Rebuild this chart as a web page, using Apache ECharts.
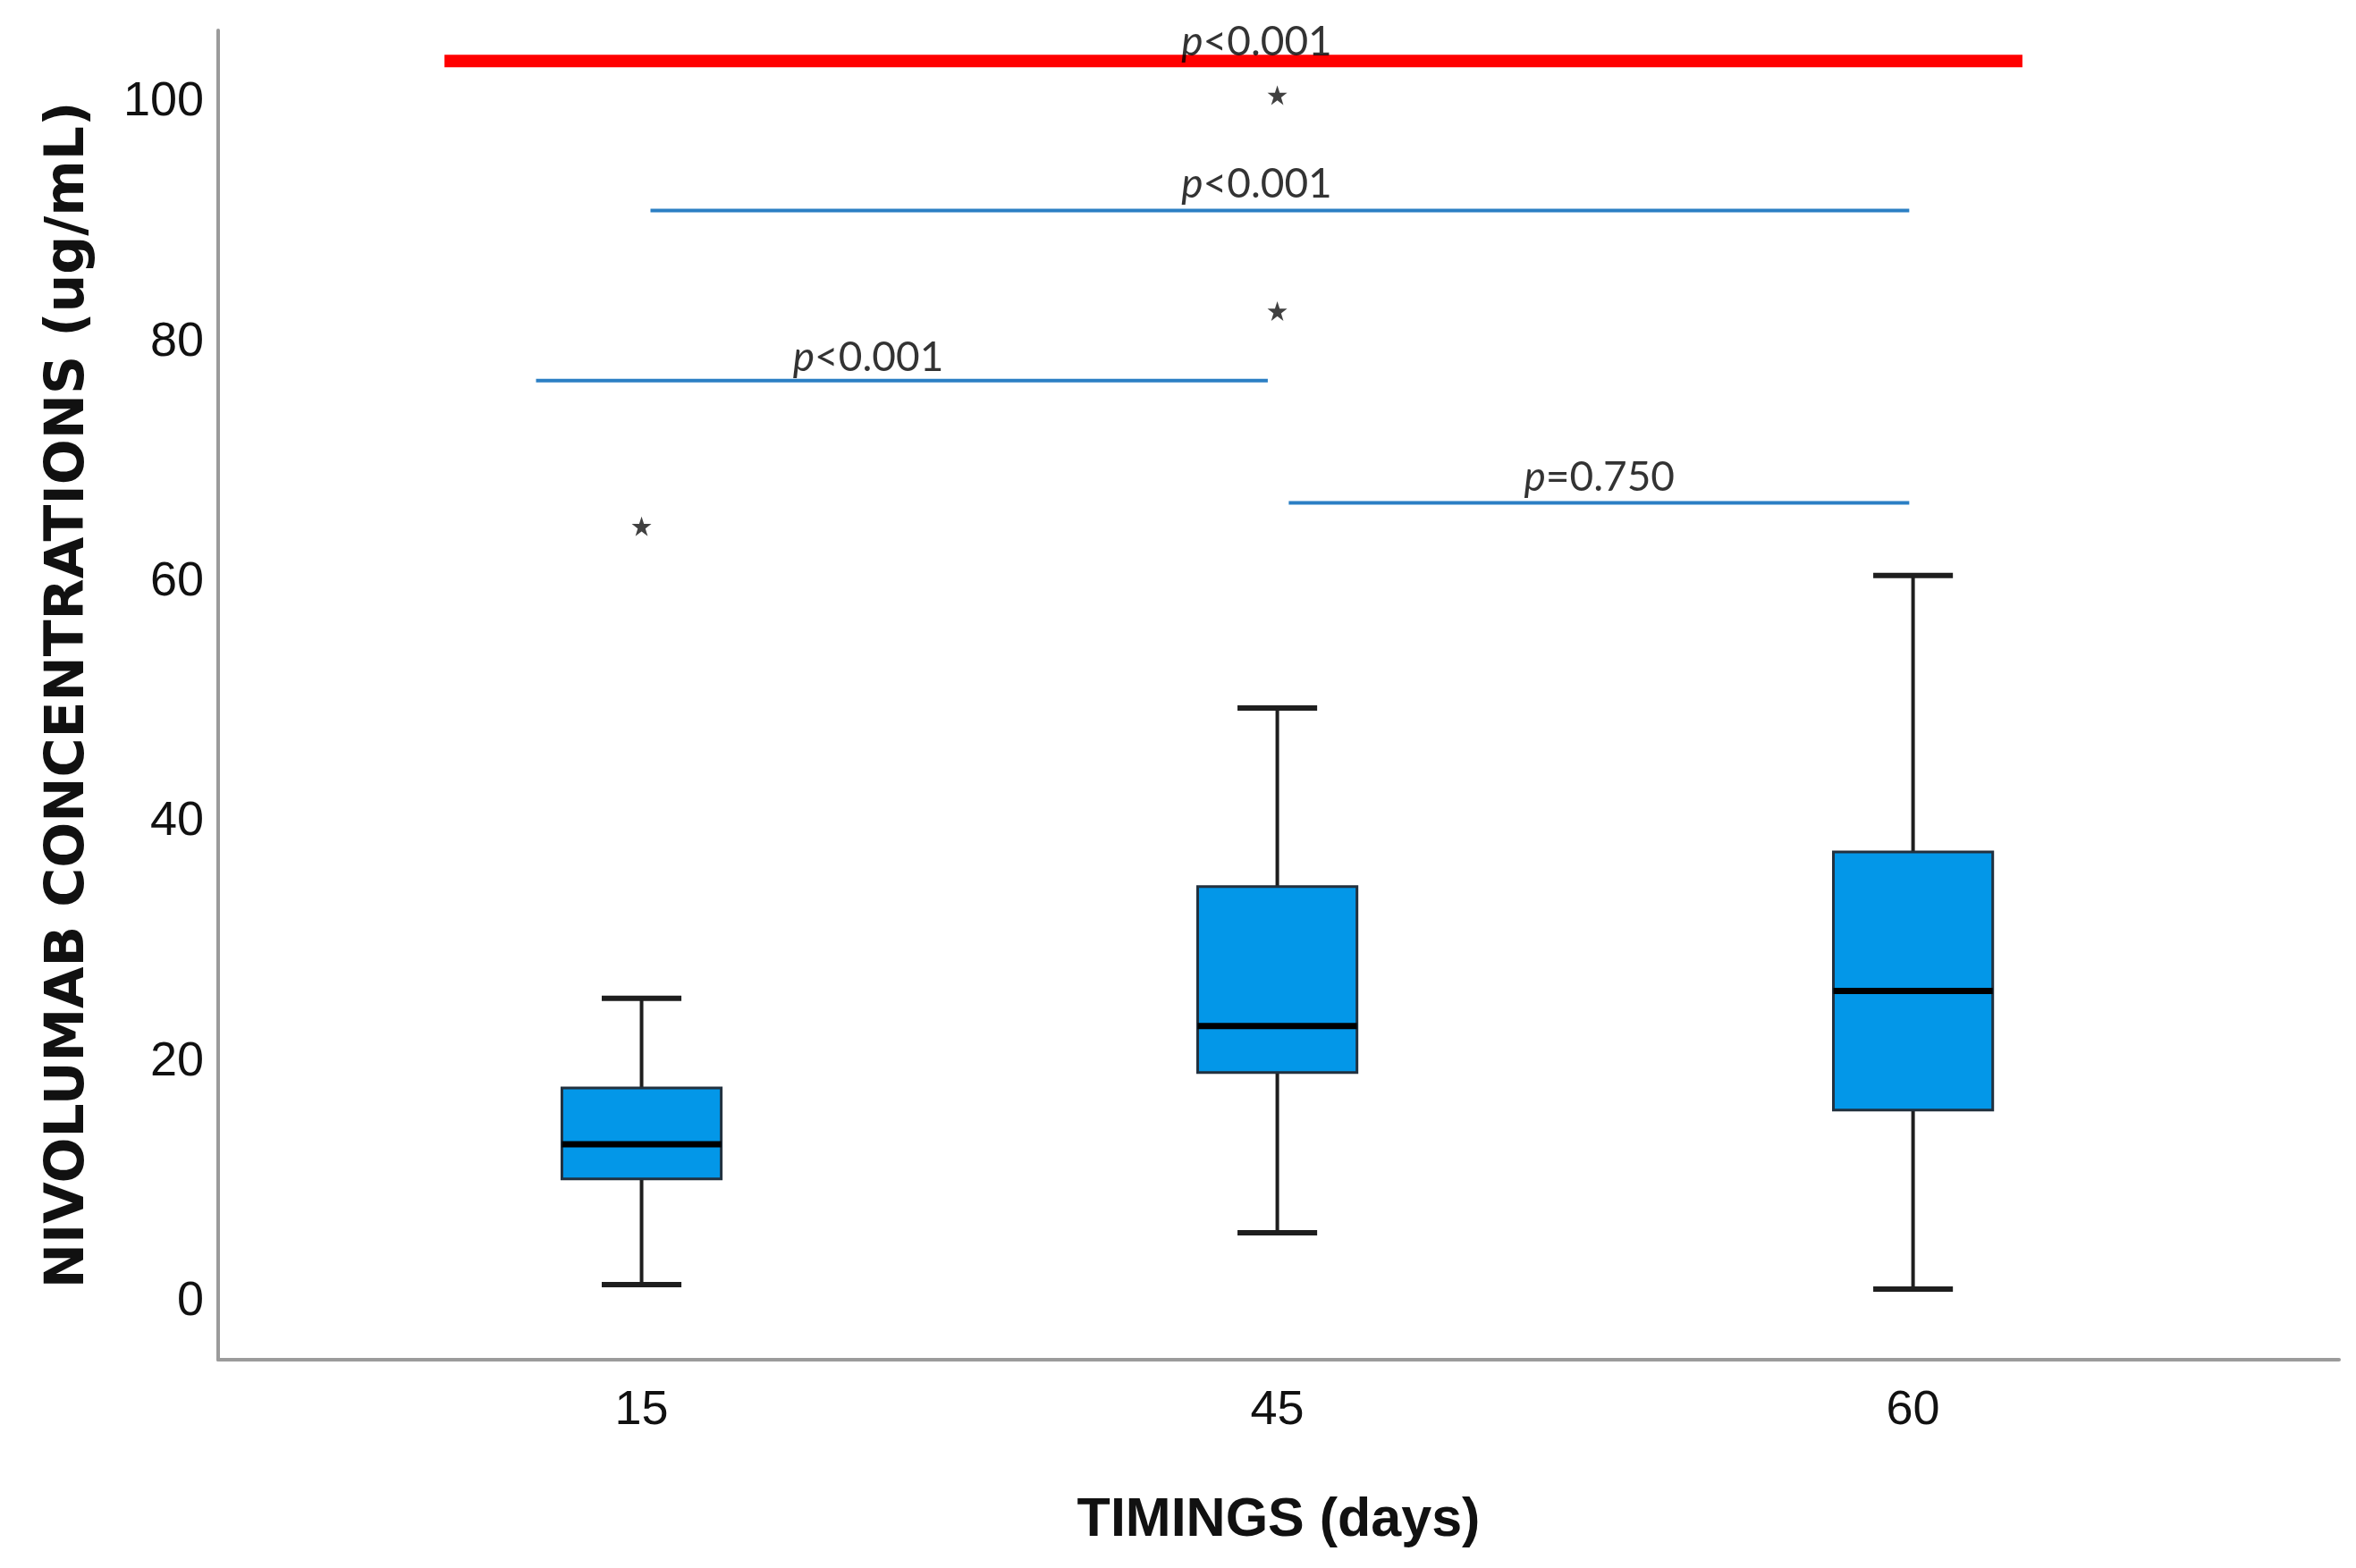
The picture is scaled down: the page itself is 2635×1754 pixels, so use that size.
<!DOCTYPE html>
<html>
<head>
<meta charset="utf-8">
<title>Nivolumab concentrations</title>
<script src="https://cdn.jsdelivr.net/npm/echarts@6/dist/echarts.min.js"></script>
<style>
html, body { margin: 0; padding: 0; background: #fff; }
#chart { width: 2635px; height: 1754px; }
</style>
</head>
<body>
<div id="chart"></div>
<script>
// categories sit at x = 1, 2, 3 on a value axis
var timings = ['15', '45', '60'];
var timingX = [1, 2, 3];
// [min, Q1, median, Q3, max]
var boxMin = [1.42, 5.74, 1.04];
var boxQ1 = [10.22, 19.09, 15.96];
var boxMedian = [13.12, 22.97, 25.9];
var boxQ3 = [17.82, 34.6, 37.5];
var boxMax = [25.28, 49.5, 60.55];
// extreme outliers (SPSS stars)
var outlierX = [1, 2, 2];
var outlierY = [64.65, 82.6, 100.6];
// comparison lines: start x, end x, y
var bracketX0 = [0.69, 1.014, 0.834, 2.018];
var bracketX1 = [3.172, 2.994, 1.985, 2.994];
var bracketY = [103.45, 90.98, 76.8, 66.6];
var pLabels = ['<0.001', '<0.001', '<0.001', '=0.750'];
var pLabelX = [1.849, 1.849, 1.238, 2.388];
var pLabelY = [105.0, 93.14, 78.67, 68.68];

var chart = echarts.init(document.getElementById('chart'), null, { renderer: 'canvas' });

var tickFont = "'Liberation Sans', Arial, sans-serif";
var boxHalf = 0.1253;

var boxData = timingX.map(function (x, i) {
    return [x, boxMin[i], boxQ1[i], boxMedian[i], boxQ3[i], boxMax[i]];
});

var series = [];

// comparison lines
bracketY.forEach(function (y, i) {
    series.push({
        type: 'line',
        data: [[bracketX0[i], y], [bracketX1[i], y]],
        symbol: 'none',
        silent: true,
        z: 1,
        lineStyle: i === 0 ? { color: '#ff0000', width: 14 } : { color: '#2b7fc4', width: 4 }
    });
});

series.push({
    type: 'custom',
    data: boxData,
    encode: { x: 0, y: [1, 2, 3, 4, 5] },
    z: 3,
    renderItem: function (params, api) {
        var x = api.value(0);
        var lo = api.coord([x, api.value(1)]);
        var q1 = api.coord([x, api.value(2)]);
        var med = api.coord([x, api.value(3)]);
        var q3 = api.coord([x, api.value(4)]);
        var hi = api.coord([x, api.value(5)]);
        var half = api.size([boxHalf, 0])[0];
        var cap = half / 2;
        var stroke = { stroke: '#1e1e1e', lineWidth: 4 };
        return {
            type: 'group',
            children: [
                { type: 'line', shape: { x1: lo[0], y1: lo[1], x2: q1[0], y2: q1[1] }, style: stroke },
                { type: 'line', shape: { x1: q3[0], y1: q3[1], x2: hi[0], y2: hi[1] }, style: stroke },
                { type: 'line', shape: { x1: lo[0] - cap, y1: lo[1], x2: lo[0] + cap, y2: lo[1] }, style: { stroke: '#1e1e1e', lineWidth: 6 } },
                { type: 'line', shape: { x1: hi[0] - cap, y1: hi[1], x2: hi[0] + cap, y2: hi[1] }, style: { stroke: '#1e1e1e', lineWidth: 6 } },
                { type: 'rect', shape: { x: q3[0] - half, y: q3[1], width: half * 2, height: q1[1] - q3[1] },
                  style: { fill: '#0397e8', stroke: '#22313f', lineWidth: 3 } },
                { type: 'line', shape: { x1: med[0] - half, y1: med[1], x2: med[0] + half, y2: med[1] },
                  style: { stroke: '#000', lineWidth: 7 } }
            ]
        };
    }
});

series.push({
    type: 'scatter',
    data: outlierX.map(function (x, i) { return [x, outlierY[i]]; }),
    symbol: 'path://M50,0 L61.8,35.5 L99,35.5 L69,57.5 L80.5,93 L50,71 L19.5,93 L31,57.5 L1,35.5 L38.2,35.5 Z',
    symbolSize: 22,
    itemStyle: { color: '#111' },
    silent: true,
    z: 4
});

series.push({
    type: 'scatter',
    data: pLabelX.map(function (x, i) { return [x, pLabelY[i], pLabels[i]]; }),
    symbolSize: 0,
    silent: true,
    z: 5,
    label: {
        show: true,
        position: [0, 0],
        align: 'left',
        verticalAlign: 'middle',
        formatter: function (p) { return '{i|p}{n|' + p.value[2] + '}'; },
        rich: {
            i: { fontFamily: 'Lato', fontStyle: 'italic', fontSize: 46, color: '#000' },
            n: { fontFamily: 'Lato', fontSize: 46, color: '#000' }
        }
    }
});

var option = {
    backgroundColor: '#fff',
    animation: false,
    grid: { left: 244, right: 19, top: 34, bottom: 233, containLabel: false, outerBoundsMode: 'none' },
    xAxis: {
        type: 'value',
        min: 0.334,
        max: 3.67,
        splitNumber: 3,
        name: 'TIMINGS (days)',
        nameLocation: 'middle',
        nameGap: 150,
        nameTextStyle: { fontFamily: tickFont, fontWeight: 'bold', fontSize: 61, color: '#111' },
        axisLine: { onZero: false, lineStyle: { color: '#9b9b9b', width: 4 } },
        axisTick: { show: false },
        splitLine: { show: false },
        axisLabel: {
            margin: 30,
            fontFamily: tickFont,
            fontSize: 54,
            color: '#111',
            showMinLabel: false,
            showMaxLabel: false,
            formatter: function (v) {
                var k = Math.round(v);
                if (Math.abs(v - k) > 1e-6) return '';
                var idx = timingX.indexOf(k);
                return idx >= 0 ? timings[idx] : '';
            }
        }
    },
    yAxis: {
        type: 'value',
        min: -4.85,
        max: 106,
        splitNumber: 5,
        name: 'NIVOLUMAB CONCENTRATIONS (ug/mL)',
        nameLocation: 'middle',
        nameGap: 137,
        nameTextStyle: { fontFamily: 'DejaVu Sans', fontWeight: 'bold', fontSize: 60, color: '#111' },
        axisLine: { show: true, onZero: false, lineStyle: { color: '#9b9b9b', width: 4 } },
        axisTick: { show: false },
        splitLine: { show: false },
        axisLabel: {
            margin: 16,
            fontFamily: tickFont,
            fontSize: 54,
            color: '#111',
            showMinLabel: false,
            showMaxLabel: false,
            formatter: function (v) {
                var k = Math.round(v / 20) * 20;
                if (Math.abs(v - k) > 1e-6 || k < 0 || k > 100) return '';
                return String(k);
            }
        }
    },
    series: series
};

chart.setOption(option);
</script>
</body>
</html>
